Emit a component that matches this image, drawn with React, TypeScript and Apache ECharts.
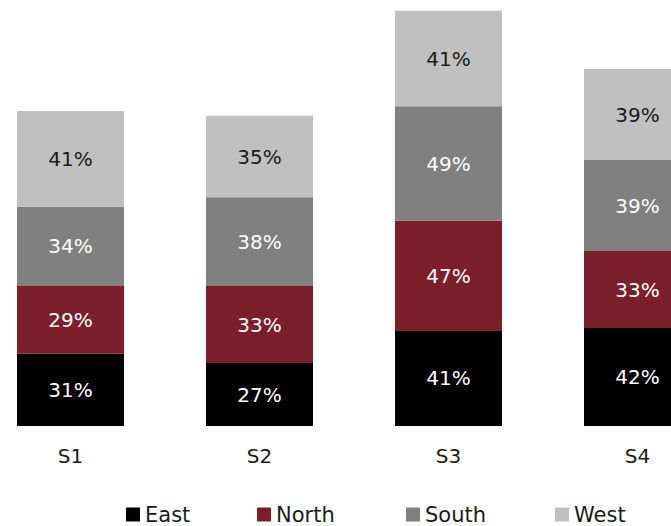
import React, { useEffect, useRef } from "react";
import * as echarts from "echarts";

const categories = ["S1", "S2", "S3", "S4"];
const seriesNames = ["East", "North", "South", "West"];
const eastValues = [31, 27, 41, 42];
const northValues = [29, 33, 47, 33];
const southValues = [34, 38, 49, 39];
const westValues = [41, 35, 41, 39];
const allValues = [eastValues, northValues, southValues, westValues];

const colors = ["#000000", "#7B1F2A", "#808080", "#C0C0C0"];
const labelColors = ["#ffffff", "#ffffff", "#ffffff", "#1a1a1a"];
const shift = 24;
const legendLefts = [126, 257, 406, 555];

export default function App() {
  const ref = useRef<HTMLDivElement>(null);
  useEffect(() => {
    if (!ref.current) return;
    const chart = echarts.init(ref.current, undefined, { renderer: "svg" });
    const font = "DejaVu Sans";
    chart.setOption({
      animation: false,
      backgroundColor: "#ffffff",
      grid: { left: 0, right: 0, top: 6, bottom: 100, containLabel: false },
      xAxis: {
        type: "category",
        data: categories,
        axisLine: { show: false },
        axisTick: { show: false },
        axisLabel: { fontSize: 20, fontFamily: font, color: "#1a1a1a", margin: 20 },
      },
      yAxis: { type: "value", min: 0, max: 180, show: false, splitLine: { show: false } },
      legend: seriesNames.map((n, i) => ({
        data: [n],
        left: legendLefts[i] + shift,
        top: 504,
        padding: 0,
        icon: "rect",
        itemWidth: 14,
        itemHeight: 14,
        itemGap: 0,
        selectedMode: false,
        textStyle: { fontSize: 21, fontFamily: font, color: "#1a1a1a" },
      })),
      series: seriesNames.map((n, i) => ({
        name: n,
        type: "bar",
        stack: "total",
        data: allValues[i],
        barWidth: 107,
        itemStyle: { color: colors[i] },
        label: {
          show: true,
          position: "inside",
          formatter: "{c}%",
          fontSize: 20,
          fontFamily: font,
          color: labelColors[i],
        },
      })),
    });
    return () => chart.dispose();
  }, []);
  return (
    <div style={{ position: "absolute", left: 0, top: 0, width: 671, height: 526, overflow: "hidden" }}>
      <div
        ref={ref}
        style={{ position: "absolute", left: -shift, top: 0, width: 756, height: 526 }}
      />
    </div>
  );
}
